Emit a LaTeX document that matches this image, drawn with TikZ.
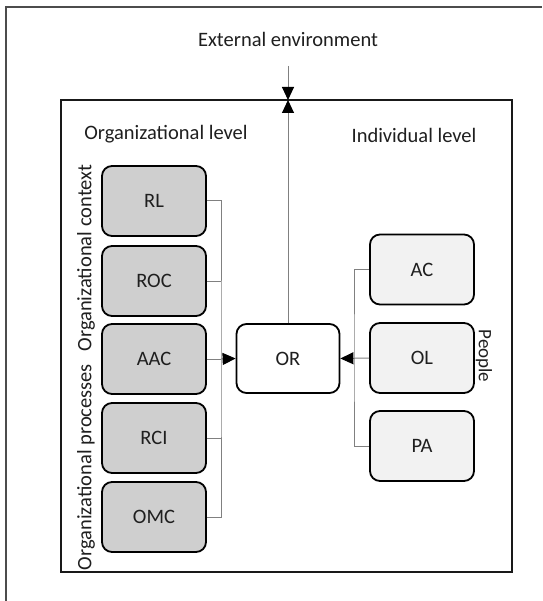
\documentclass[tikz,border=0pt]{standalone}
\usepackage{fontspec}
\setmainfont{Carlito}
\usetikzlibrary{arrows.meta}
\begin{document}
\begin{tikzpicture}[x=1pt,y=-1pt,
  lbl/.style={font=\fontsize{20.5}{22}\selectfont, text=black!88},
  box/.style={lbl, draw=black, line width=1.8pt, rounded corners=10pt,
    minimum width=104pt, minimum height=70pt, inner sep=0pt},
  orgbox/.style={box, fill=black!19},
  indbox/.style={box, fill=black!5},
  link/.style={draw=black!50, line width=1pt},
  tip/.style={-{Triangle[length=13pt,width=12pt,color=black]}}]

% canvas
\fill[white] (0,0) rectangle (542,601);
\useasboundingbox (0,0) rectangle (542,601);

% frames
\draw[line width=2.2pt, draw=black!70] (6,601) -- (6,7) -- (542,7);
\draw[line width=2pt, draw=black!90] (61,100) rectangle (512,572);

% headings
\node[lbl] (ext) at (288,39) {External environment};
\node[lbl] (orglvl) at (166,134) {Organizational level};
\node[lbl] (indlvl) at (414,135) {Individual level};
\node[lbl, rotate=90] (ctx) at (86,258) {Organizational context};
\node[lbl, rotate=90] (proc) at (86,467) {Organizational processes};
\node[lbl, font=\fontsize{19}{21}\selectfont, rotate=-90] (people) at (484,356) {People};

% organizational factors
\node[orgbox] (RL)  at (154,201) {RL};
\node[orgbox] (ROC) at (154,281) {ROC};
\node[orgbox] (AAC) at (154,359) {AAC};
\node[orgbox] (RCI) at (154,438) {RCI};
\node[orgbox] (OMC) at (154,517) {OMC};

% central outcome
\node[box, fill=white, minimum width=103pt, minimum height=69pt] (OR) at (288,358.5) {OR};

% individual factors
\node[indbox] (AC) at (422,269.5) {AC};
\node[indbox] (OL) at (422,358) {OL};
\node[indbox] (PA) at (422,446) {PA};

% left bracket
\coordinate (lb) at (221,359);
\draw[link] (RL.east) -| (lb) |- (OMC.east);
\foreach \n in {ROC,AAC,RCI} \draw[link] (\n.east) -- (\n.east -| lb);
\draw[link, tip] (AAC.east -| lb) -- (OR.west);

% right bracket
\coordinate (rb) at (354,358);
\draw[link] (AC.west) -| (rb) |- (PA.west);
\draw[link, tip] (OL.west) -- (OR.east);

% exchange with the environment
\coordinate (top) at (288,100);
\coordinate (env) at (288,66);
\draw[link, tip] (OR.north) -- (top);
\draw[link, tip] (env) -- (top);
\end{tikzpicture}
\end{document}
